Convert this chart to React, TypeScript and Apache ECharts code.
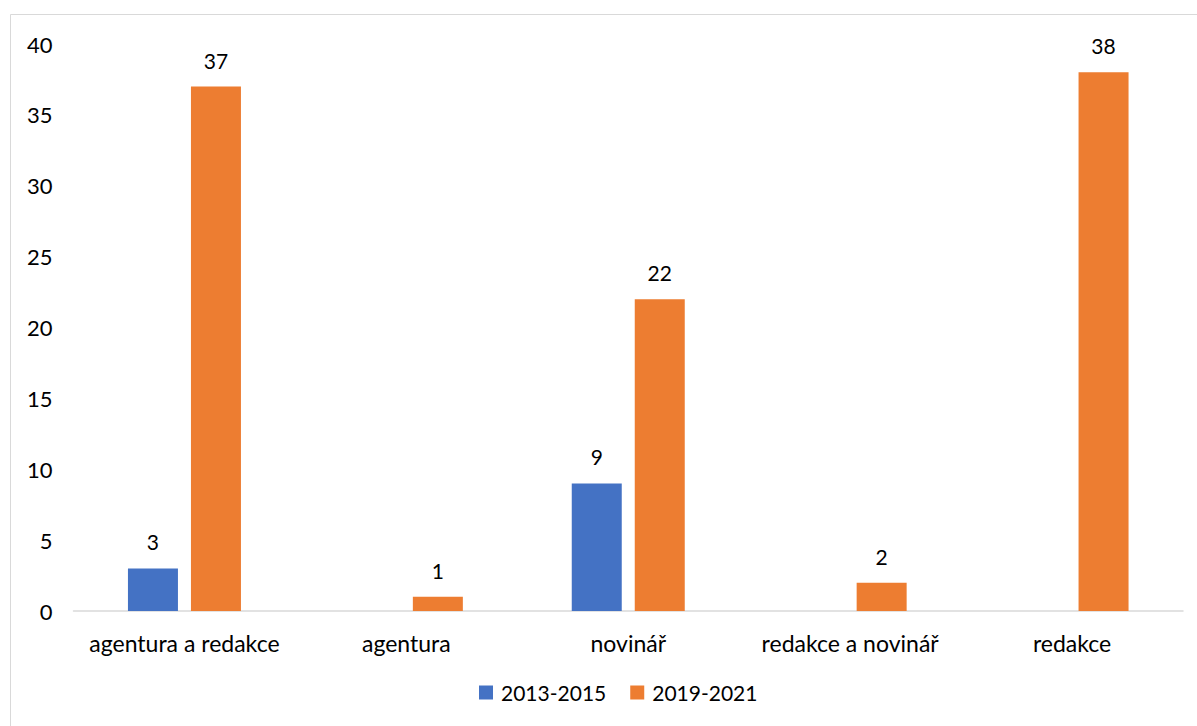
import React, { useEffect, useRef } from "react";
import * as echarts from "echarts";

const categories = ["agentura a redakce", "agentura", "novinář", "redakce a novinář", "redakce"];
const series2013: (number | null)[] = [3, null, 9, null, null];
const series2019: number[] = [37, 1, 22, 2, 38];
const seriesNames = ["2013-2015", "2019-2021"];
const yTicks = { min: 0, max: 40, interval: 5 };

export default function App() {
  const ref = useRef<HTMLDivElement>(null);
  useEffect(() => {
    if (!ref.current) return;
    const chart = echarts.init(ref.current, null, { renderer: "svg" });
    const font = "Lato, 'Open Sans', sans-serif";
    chart.setOption({
      animation: false,
      backgroundColor: "#ffffff",
      textStyle: { fontFamily: font },
      graphic: [
        {
          type: "rect",
          shape: { x: 10.5, y: 14.5, width: 1300, height: 900 },
          style: { fill: "none", stroke: "#d9d9d9", lineWidth: 1 },
          silent: true,
          z: -1,
        },
      ],
      grid: { left: 73.5, right: 14, top: 44, bottom: 115, containLabel: false },
      legend: {
        bottom: 18,
        left: 474,
        itemWidth: 14,
        itemHeight: 14,
        itemGap: 24,
        icon: "rect",
        textStyle: { fontFamily: font, fontSize: 21, color: "#000", padding: [0, 0, 0, 3] },
        data: seriesNames,
      },
      xAxis: {
        type: "category",
        data: categories,
        axisLine: { lineStyle: { color: "#d9d9d9", width: 1.5 } },
        axisTick: { show: false },
        axisLabel: { interval: 0, hideOverlap: false, fontFamily: font, fontSize: 23, color: "#000", margin: 20 },
      },
      yAxis: {
        type: "value",
        min: yTicks.min,
        max: yTicks.max,
        interval: yTicks.interval,
        splitLine: { show: false },
        axisLine: { show: false },
        axisTick: { show: false },
        axisLabel: { fontFamily: font, fontSize: 22, color: "#000", margin: 21 },
      },
      series: [
        {
          name: seriesNames[0],
          type: "bar",
          data: series2013,
          barWidth: 50,
          barGap: "26%",
          itemStyle: { color: "#4472C4" },
          label: { show: true, position: "top", distance: 16, fontFamily: font, fontSize: 21, color: "#000" },
        },
        {
          name: seriesNames[1],
          type: "bar",
          data: series2019,
          barWidth: 50,
          barGap: "26%",
          itemStyle: { color: "#ED7D31" },
          label: { show: true, position: "top", distance: 16, fontFamily: font, fontSize: 21, color: "#000" },
        },
      ],
    });
    return () => chart.dispose();
  }, []);
  return (
    <div
      ref={ref}
      style={{ position: "absolute", left: 0, top: 0, width: 1197, height: 726 }}
    />
  );
}
